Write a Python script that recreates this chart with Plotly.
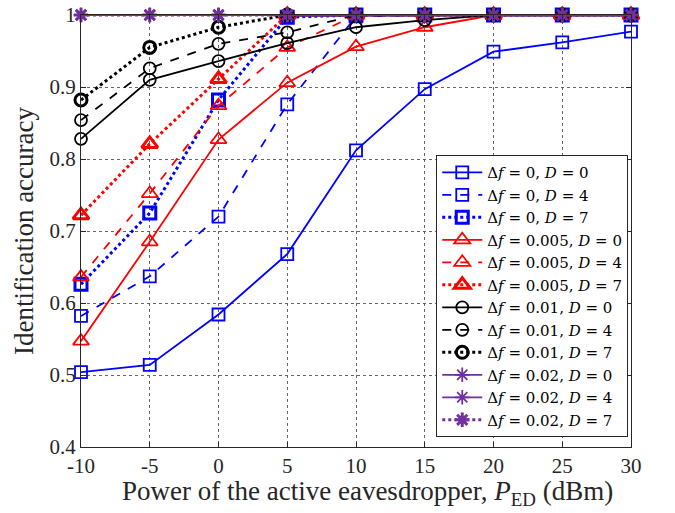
import plotly.graph_objects as go

power_dbm = [-10, -5, 0, 5, 10, 15, 20, 25, 30]

acc_df0_D0 = [0.504, 0.514, 0.584, 0.668, 0.812, 0.897, 0.949, 0.962, 0.977]
acc_df0_D4 = [0.582, 0.637, 0.720, 0.876, 0.998, 1.0, 1.0, 1.0, 1.0]
acc_df0_D7 = [0.626, 0.725, 0.882, 0.997, 1.0, 1.0, 1.0, 1.0, 1.0]

acc_df005_D0 = [0.547, 0.685, 0.827, 0.906, 0.956, 0.983, 1.0, 1.0, 1.0]
acc_df005_D4 = [0.636, 0.752, 0.874, 0.955, 1.0, 1.0, 1.0, 1.0, 1.0]
acc_df005_D7 = [0.722, 0.821, 0.911, 1.0, 1.0, 1.0, 1.0, 1.0, 1.0]

acc_df01_D0 = [0.828, 0.910, 0.936, 0.961, 0.983, 0.993, 1.0, 1.0, 1.0]
acc_df01_D4 = [0.854, 0.926, 0.960, 0.976, 1.0, 1.0, 1.0, 1.0, 1.0]
acc_df01_D7 = [0.882, 0.955, 0.983, 1.0, 1.0, 1.0, 1.0, 1.0, 1.0]

acc_df02_D0 = [1.0, 1.0, 1.0, 1.0, 1.0, 1.0, 1.0, 1.0, 1.0]
acc_df02_D4 = [1.0, 1.0, 1.0, 1.0, 1.0, 1.0, 1.0, 1.0, 1.0]
acc_df02_D7 = [1.0, 1.0, 1.0, 1.0, 1.0, 1.0, 1.0, 1.0, 1.0]

x_tick_vals = [-10, -5, 0, 5, 10, 15, 20, 25, 30]
x_tick_text = ["-10", "-5", "0", "5", "10", "15", "20", "25", "30"]
y_tick_vals = [0.4, 0.5, 0.6, 0.7, 0.8, 0.9, 1.0]
y_tick_text = ["0.4", "0.5", "0.6", "0.7", "0.8", "0.9", "1"]

x_title = "Power of the active eavesdropper, <i>P</i><sub>ED</sub> (dBm)"
y_title = "Identification accuracy"

BLUE = "#0000FF"
RED = "#FF0000"
BLACK = "#000000"
PURPLE = "#7030A0"

series = [
    (acc_df0_D0, "0", "0", BLUE, "square-open", "solid"),
    (acc_df0_D4, "0", "4", BLUE, "square-open", "dash"),
    (acc_df0_D7, "0", "7", BLUE, "square-open", "dot"),
    (acc_df005_D0, "0.005", "0", RED, "triangle-up-open", "solid"),
    (acc_df005_D4, "0.005", "4", RED, "triangle-up-open", "dash"),
    (acc_df005_D7, "0.005", "7", RED, "triangle-up-open", "dot"),
    (acc_df01_D0, "0.01", "0", BLACK, "circle-open", "solid"),
    (acc_df01_D4, "0.01", "4", BLACK, "circle-open", "dash"),
    (acc_df01_D7, "0.01", "7", BLACK, "circle-open", "dot"),
    (acc_df02_D0, "0.02", "0", PURPLE, "asterisk-open", "solid"),
    (acc_df02_D4, "0.02", "4", PURPLE, "asterisk-open", "solid"),
    (acc_df02_D7, "0.02", "7", PURPLE, "asterisk-open", "dot"),
]

fig = go.Figure()
for vals, df, D, color, sym, dash in series:
    bold = D == "7"
    size = 14 if "triangle" in sym else 12
    fig.add_trace(go.Scatter(
        x=power_dbm, y=vals,
        mode="lines+markers",
        name=f"Δ<i>f</i> = {df}, <i>D</i> = {D}",
        line=dict(color=color, width=3 if bold else 1.8, dash=dash),
        marker=dict(symbol=sym, size=size, color=color,
                    line=dict(color=color, width=3 if bold else 1.8)),
        cliponaxis=False,
    ))

axis_color = "#262626"
fig.update_layout(
    width=675, height=513,
    margin=dict(l=81, r=44, t=15, b=66),
    paper_bgcolor="white", plot_bgcolor="white",
    font=dict(family="Liberation Serif, DejaVu Serif, serif", color=axis_color),
    showlegend=True,
    legend=dict(
        x=0.995, xanchor="right", y=0.023, yanchor="bottom",
        bgcolor="white", bordercolor=axis_color, borderwidth=1,
        font=dict(size=15, color="#000000", family="DejaVu Serif, serif"),
        itemwidth=40, tracegroupgap=0,
    ),
    xaxis=dict(
        range=[-10, 30], tickvals=x_tick_vals, ticktext=x_tick_text,
        showgrid=True, gridcolor="#666666", griddash="dot", gridwidth=1,
        showline=True, linecolor=axis_color, linewidth=1, mirror="ticks",
        ticks="inside", ticklen=5, tickcolor=axis_color,
        tickfont=dict(size=21), zeroline=False, automargin=False,
    ),
    yaxis=dict(
        range=[0.4, 1.0], tickvals=y_tick_vals, ticktext=y_tick_text,
        showgrid=True, gridcolor="#666666", griddash="dot", gridwidth=1,
        showline=True, linecolor=axis_color, linewidth=1, mirror="ticks",
        ticks="inside", ticklen=5, tickcolor=axis_color,
        tickfont=dict(size=21), zeroline=False, automargin=False,
        title=dict(text=y_title, font=dict(size=27), standoff=8),
    ),
    annotations=[
        dict(text=x_title, xref="paper", yref="paper", x=0.52, y=-0.106,
             xanchor="center", yanchor="middle", showarrow=False,
             font=dict(size=27, color=axis_color)),
    ],
)

fig.write_html(
    "out.html",
    config={"displayModeBar": False},
    post_script="document.body.style.margin='0';document.body.style.overflow='hidden';",
)
